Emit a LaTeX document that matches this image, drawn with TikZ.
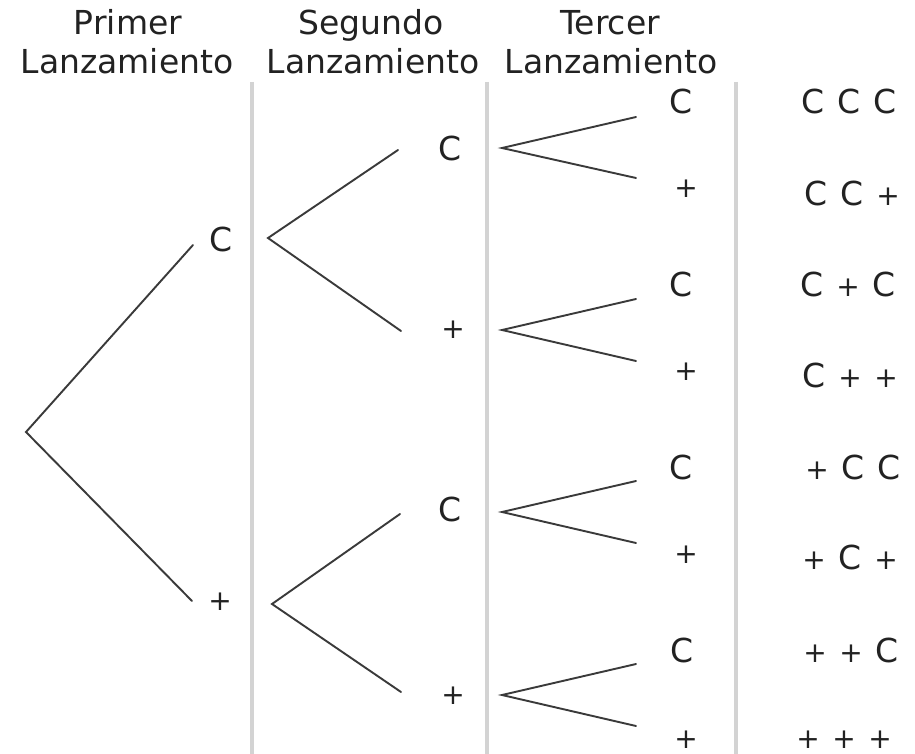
\documentclass[tikz,border=0pt]{standalone}
\usepackage{fontspec}
\setmainfont{DejaVu Sans}
\definecolor{inkc}{HTML}{222222}
\definecolor{branchc}{HTML}{3A3A3A}
\definecolor{rulec}{HTML}{D3D3D3}
% small plus sign and a three-outcome row
\newcommand\pl{{\fontsize{28}{28}\selectfont +}}
\newcommand\trio[3]{\makebox[36pt]{#1}\makebox[36pt]{#2}\makebox[36pt]{#3}}
\begin{document}
\begin{tikzpicture}[x=1pt,y=-1pt,
  every node/.style={inner sep=0pt,text=inkc},
  head/.style={font=\fontsize{33}{33}\selectfont,anchor=base},
  lab/.style={font=\fontsize{33}{33}\selectfont},
  plus/.style={font=\fontsize{28}{28}\selectfont},
  branch/.style={draw=branchc,line width=1.9pt,line cap=round},
  sep/.style={draw=rulec,line width=3.5pt}]
\useasboundingbox[fill=white] (0,0) rectangle (915,754);

% column headings
\node[head] (h1a) at (128,35) {Primer};
\node[head] (h1b) at (127,74) {Lanzamiento};
\node[head] (h2a) at (371,35) {Segundo};
\node[head] (h2b) at (373,74) {Lanzamiento};
\node[head] (h3a) at (610,35) {Tercer};
\node[head] (h3b) at (611,74) {Lanzamiento};

% column separators
\draw[sep] (252,82) -- (252,754);
\draw[sep] (487,82) -- (487,754);
\draw[sep] (736,82) -- (736,754);

% first toss
\node[lab]  (a)  at (221,239) {C};
\node[plus] (b)  at (220,602) {+};
% second toss
\node[lab]  (ac) at (450,148) {C};
\node[plus] (ap) at (453,330) {+};
\node[lab]  (bc) at (450,509) {C};
\node[plus] (bp) at (453,696) {+};
% third toss
\node[lab]  (acc) at (681,101) {C};
\node[plus] (acp) at (686,189) {+};
\node[lab]  (apc) at (681,284) {C};
\node[plus] (app) at (686,372) {+};
\node[lab]  (bcc) at (681,467) {C};
\node[plus] (bcp) at (686,555) {+};
\node[lab]  (bpc) at (682,650) {C};
\node[plus] (bpp) at (686,740) {+};

% outcomes
\node[lab] (r1) at (849,101) {\trio{C}{C}{C}};
\node[lab] (r2) at (852,193) {\trio{C}{C}{\pl}};
\node[lab] (r3) at (848,284) {\trio{C}{\pl}{C}};
\node[lab] (r4) at (850,375) {\trio{C}{\pl}{\pl}};
\node[lab] (r5) at (853,467) {\trio{\pl}{C}{C}};
\node[lab] (r6) at (850,557) {\trio{\pl}{C}{\pl}};
\node[lab] (r7) at (851,650) {\trio{\pl}{\pl}{C}};
\node[lab] (r8) at (844,740) {\trio{\pl}{\pl}{\pl}};

% branch points
\coordinate (root) at (26,432);
\coordinate (a-in)  at (193,245);
\coordinate (b-in)  at (192,601);
\coordinate (a-out) at (268,238);
\coordinate (b-out) at (272,604);
\coordinate (ac-in) at (398,150);
\coordinate (ap-in) at (401,331);
\coordinate (bc-in) at (400,514);
\coordinate (bp-in) at (401,692);
\coordinate (ac-out) at (502,148);
\coordinate (ap-out) at (502,330);
\coordinate (bc-out) at (502,512);
\coordinate (bp-out) at (502,695);
\coordinate (acc-in) at (636,117);
\coordinate (acp-in) at (636,178);
\coordinate (apc-in) at (636,299);
\coordinate (app-in) at (636,361);
\coordinate (bcc-in) at (636,481);
\coordinate (bcp-in) at (636,543);
\coordinate (bpc-in) at (636,664);
\coordinate (bpp-in) at (636,726);

% branches
\draw[branch] (a-in) -- (root) -- (b-in);
\draw[branch] (ac-in) -- (a-out) -- (ap-in);
\draw[branch] (bc-in) -- (b-out) -- (bp-in);
\draw[branch] (acc-in) -- (ac-out) -- (acp-in);
\draw[branch] (apc-in) -- (ap-out) -- (app-in);
\draw[branch] (bcc-in) -- (bc-out) -- (bcp-in);
\draw[branch] (bpc-in) -- (bp-out) -- (bpp-in);
\end{tikzpicture}
\end{document}
